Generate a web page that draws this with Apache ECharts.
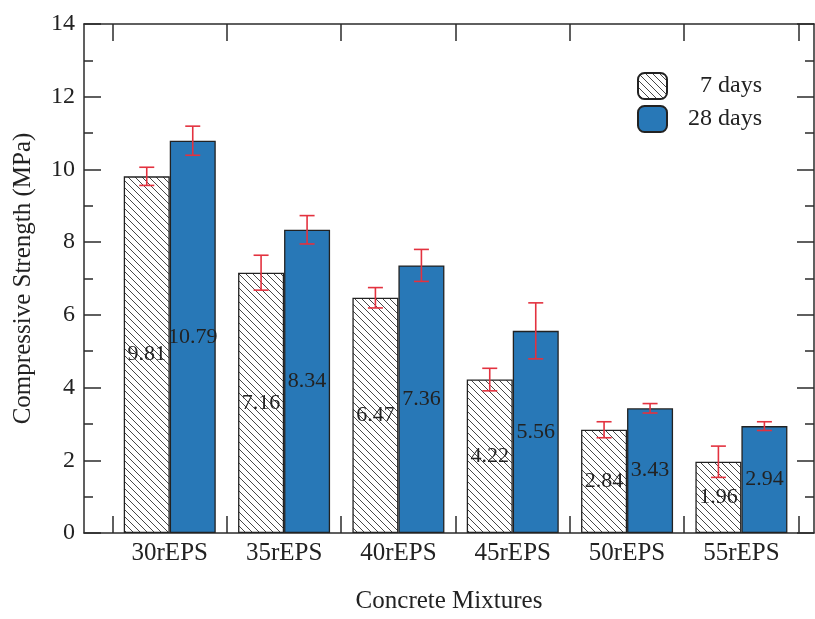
<!DOCTYPE html>
<html>
<head>
<meta charset="utf-8">
<script src="https://cdn.jsdelivr.net/npm/echarts@6/dist/echarts.min.js"></script>
<style>
  html, body { margin: 0; padding: 0; background: #ffffff; }
  #chart { width: 815px; height: 619px; }
</style>
</head>
<body>
<div id="chart"></div>
<script>
// Compressive strength of EPS concrete mixtures at 7 and 28 days
const mixtures = ['30rEPS', '35rEPS', '40rEPS', '45rEPS', '50rEPS', '55rEPS'];
const strength7 = [9.81, 7.16, 6.47, 4.22, 2.84, 1.96];
const strength28 = [10.79, 8.34, 7.36, 5.56, 3.43, 2.94];
const error7 = [0.25, 0.48, 0.28, 0.31, 0.22, 0.43];
const error28 = [0.40, 0.39, 0.44, 0.77, 0.13, 0.12];
const seriesNames = ['7 days', '28 days'];
const yTicks = [0, 2, 4, 6, 8, 10, 12, 14];

const FONT = '"Liberation Serif", "Times New Roman", serif';
const TEXT = '#222222';
const AXIS = '#2b2b2b';
const BLUE = '#2878b7';
const RED = '#e3323f';
const BAR_W = 46;

// mixtures sit at positions 1..n on a numeric x axis; ticks fall between them
const positions = mixtures.map((_, i) => i + 1);
const boundaries = [0.5].concat(positions.map(p => p + 0.5));

// diagonal hatch fill for the 7-day bars
function hatchPattern() {
  const s = 7;
  const c = document.createElement('canvas');
  c.width = s; c.height = s;
  const g = c.getContext('2d');
  g.fillStyle = '#ffffff';
  g.fillRect(0, 0, s, s);
  g.strokeStyle = '#333333';
  g.lineWidth = 0.9;
  g.beginPath();
  g.moveTo(-1, -1); g.lineTo(s + 1, s + 1);
  g.moveTo(-1, s - 1); g.lineTo(1, s + 1);
  g.moveTo(s - 1, -1); g.lineTo(s + 1, 1);
  g.stroke();
  return { image: c, repeat: 'repeat' };
}

const chart = echarts.init(document.getElementById('chart'), null, { renderer: 'canvas' });

function pairs(vals) { return vals.map((v, i) => [positions[i], v]); }

function errorSeries(vals, errs, shift, idx) {
  return {
    type: 'custom',
    name: 'err' + idx,
    xAxisIndex: 0,
    yAxisIndex: 0,
    z: 5,
    silent: true,
    data: vals.map((v, i) => [positions[i], v - errs[i], v + errs[i]]),
    renderItem: function (params, api) {
      const lo = api.coord([api.value(0), api.value(1)]);
      const hi = api.coord([api.value(0), api.value(2)]);
      const x = lo[0] + shift;
      const cap = 7.5;
      const style = { stroke: RED, lineWidth: 1.6, fill: null };
      return {
        type: 'group',
        children: [
          { type: 'line', shape: { x1: x, y1: lo[1], x2: x, y2: hi[1] }, style: style },
          { type: 'line', shape: { x1: x - cap, y1: lo[1], x2: x + cap, y2: lo[1] }, style: style },
          { type: 'line', shape: { x1: x - cap, y1: hi[1], x2: x + cap, y2: hi[1] }, style: style }
        ]
      };
    }
  };
}

const barLabel = {
  show: true,
  position: 'inside',
  color: TEXT,
  fontFamily: FONT,
  fontSize: 22,
  formatter: p => p.value[1].toFixed(2)
};

const option = {
  animation: false,
  backgroundColor: '#ffffff',
  grid: { left: 84, right: 1, top: 24, bottom: 81, containLabel: false },
  legend: {
    orient: 'vertical',
    left: 637,
    top: 72,
    padding: 0,
    itemWidth: 29,
    itemHeight: 26,
    itemGap: 5,
    icon: 'roundRect',
    data: seriesNames,
    formatter: name => '{r|' + name + '}',
    textStyle: {
      fontFamily: FONT,
      fontSize: 24,
      color: TEXT,
      lineHeight: 26,
      rich: { r: { width: 90, height: 26, lineHeight: 26, align: 'right', fontFamily: FONT, fontSize: 24, color: TEXT } }
    }
  },
  xAxis: [
    {
      type: 'value',
      position: 'bottom',
      min: 0.25,
      max: 6.635,
      name: 'Concrete Mixtures',
      nameLocation: 'middle',
      nameGap: 56,
      nameTextStyle: { fontFamily: FONT, fontSize: 25, color: TEXT },
      axisLine: { show: true, onZero: false, lineStyle: { color: AXIS, width: 1.5 } },
      axisTick: { show: true, inside: true, length: 17, customValues: boundaries, lineStyle: { color: AXIS, width: 1.5 } },
      axisLabel: {
        show: true,
        customValues: positions,
        margin: 8,
        fontFamily: FONT,
        fontSize: 25,
        color: TEXT,
        formatter: v => mixtures[Math.round(v) - 1] || ''
      },
      splitLine: { show: false }
    },
    {
      type: 'value',
      position: 'top',
      min: 0.25,
      max: 6.635,
      axisLine: { show: true, onZero: false, lineStyle: { color: AXIS, width: 1.5 } },
      axisTick: { show: true, inside: true, length: 17, customValues: boundaries, lineStyle: { color: AXIS, width: 1.5 } },
      axisLabel: { show: false },
      splitLine: { show: false }
    }
  ],
  yAxis: [
    {
      type: 'value',
      position: 'left',
      min: 0,
      max: 14,
      interval: 2,
      name: 'Compressive Strength (MPa)',
      nameLocation: 'middle',
      nameGap: 48,
      nameTextStyle: { fontFamily: FONT, fontSize: 25, color: TEXT },
      axisLine: { show: true, lineStyle: { color: AXIS, width: 1.5 } },
      axisTick: { show: true, inside: true, length: 17, lineStyle: { color: AXIS, width: 1.5 } },
      minorTick: { show: true, splitNumber: 2, length: 9, lineStyle: { color: AXIS, width: 1.5 } },
      axisLabel: {
        margin: 9,
        fontFamily: FONT,
        fontSize: 24,
        color: TEXT,
        customValues: yTicks
      },
      splitLine: { show: false }
    },
    {
      type: 'value',
      position: 'right',
      min: 0,
      max: 14,
      interval: 2,
      axisLine: { show: true, lineStyle: { color: AXIS, width: 1.5 } },
      axisTick: { show: true, inside: true, length: 17, lineStyle: { color: AXIS, width: 1.5 } },
      minorTick: { show: true, splitNumber: 2, length: 9, lineStyle: { color: AXIS, width: 1.5 } },
      axisLabel: { show: false },
      splitLine: { show: false }
    }
  ],
  series: [
    {
      type: 'bar',
      name: seriesNames[0],
      xAxisIndex: 0,
      yAxisIndex: 0,
      barWidth: BAR_W,
      barGap: '0%',
      data: pairs(strength7),
      itemStyle: { color: hatchPattern(), borderColor: '#222222', borderWidth: 1.3 },
      label: barLabel
    },
    {
      type: 'bar',
      name: seriesNames[1],
      xAxisIndex: 0,
      yAxisIndex: 0,
      barWidth: BAR_W,
      barGap: '0%',
      data: pairs(strength28),
      itemStyle: { color: BLUE, borderColor: '#222222', borderWidth: 1.3 },
      label: barLabel
    },
    errorSeries(strength7, error7, -BAR_W / 2, 0),
    errorSeries(strength28, error28, BAR_W / 2, 1)
  ]
};

chart.setOption(option);
</script>
</body>
</html>
